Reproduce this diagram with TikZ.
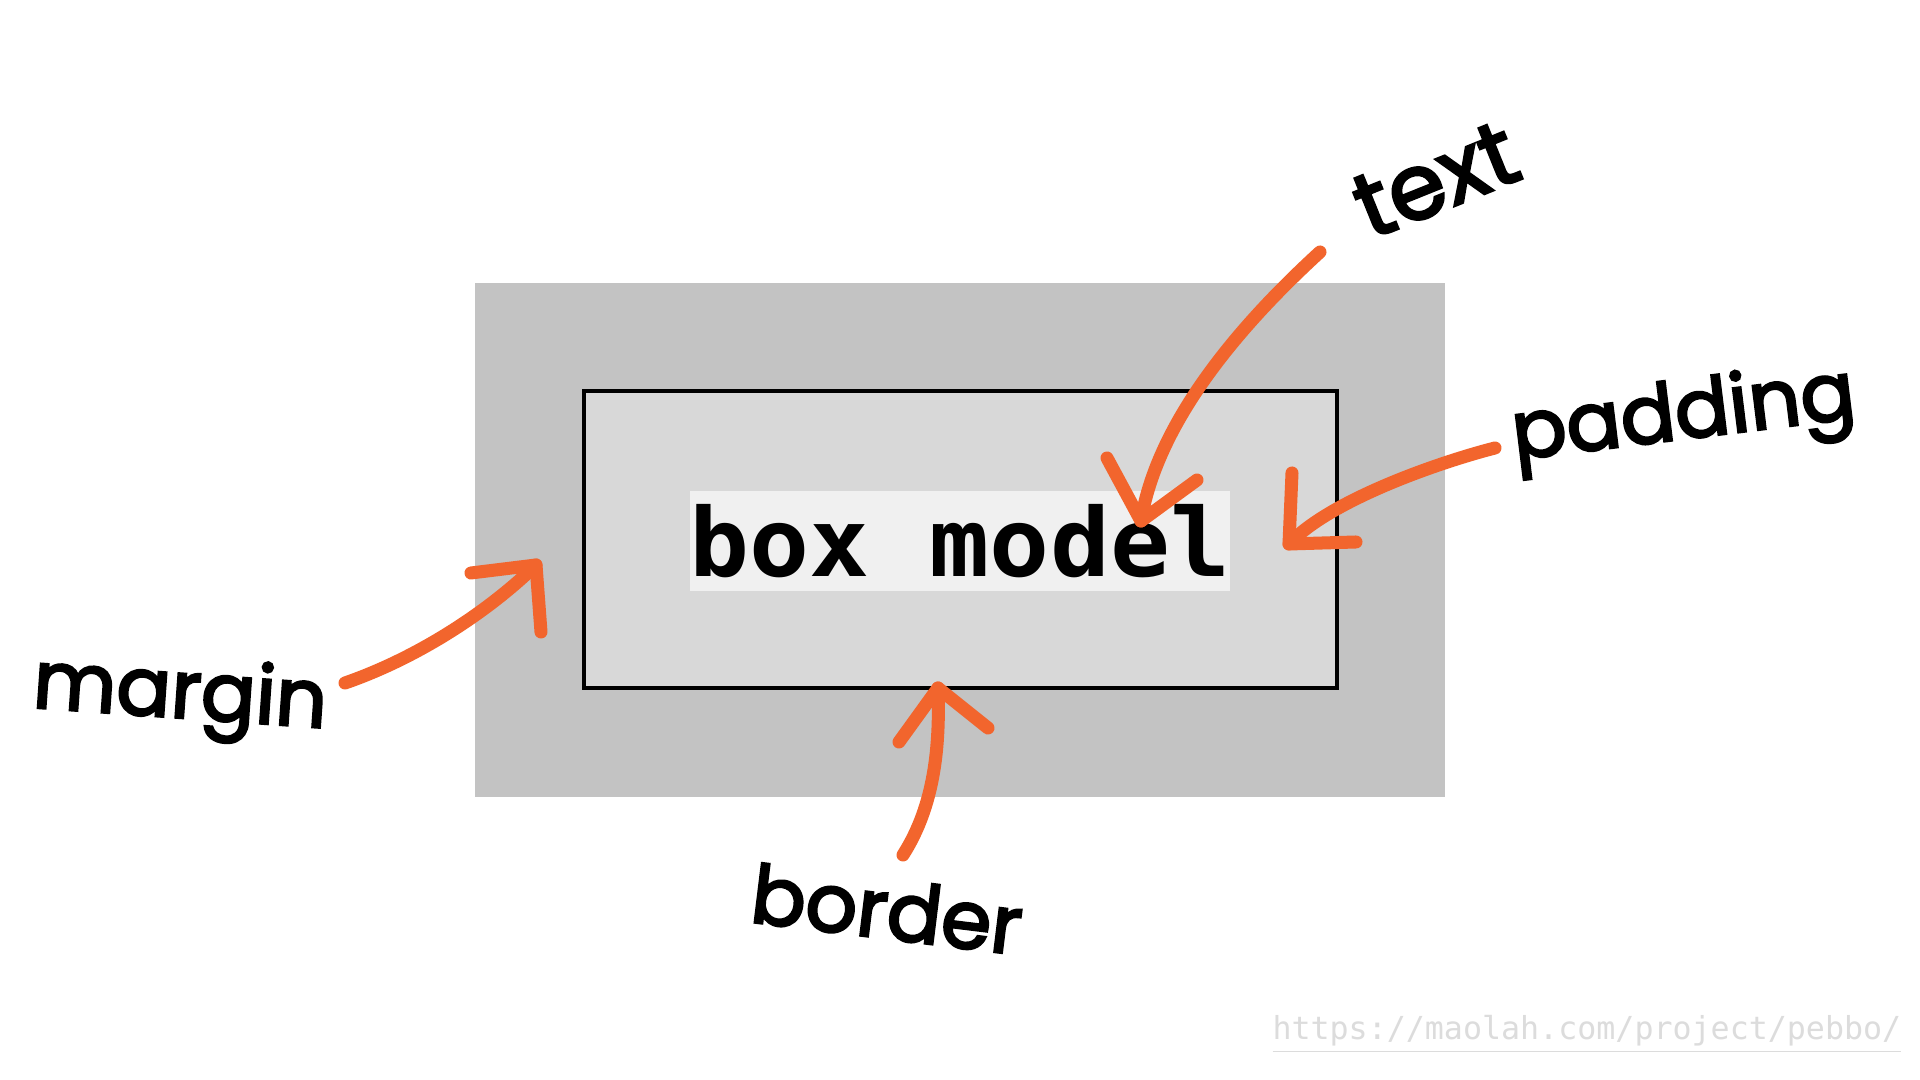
\documentclass[tikz,border=0pt]{standalone}
\usepackage{fontspec}
\usepackage{xcolor}
\usepackage{tikz}

\newfontfamily\handfont{Poppins}[FakeBold=3]
\newfontfamily\codefont{DejaVu Sans Mono}[FakeStretch=1.05]
\newfontfamily\urlfont{DejaVu Sans Mono}

\definecolor{penorange}{HTML}{F2652D}
\definecolor{margingray}{HTML}{C3C3C3}
\definecolor{paddinggray}{HTML}{D8D8D8}
\definecolor{textgray}{HTML}{F0F0F0}
\definecolor{urlgray}{HTML}{DCDCDC}

\begin{document}
\begin{tikzpicture}[x=0.01cm, y=-0.01cm,
  hand/.style={font=\handfont\fontsize{#1}{#1}\selectfont, inner sep=0pt},
  orangepen/.style={draw=penorange, line width=3.7pt, line cap=round, line join=round}]

% page, in pixels of the slide
\fill[white] (0,0) rectangle (1920,1080);
\useasboundingbox (0,0) rectangle (1920,1080);

% the boxes, outside in
\fill[margingray] (475,283) rectangle (1445,797);
\draw[fill=paddinggray, line width=1pt] (584,391) rectangle (1337,688);
\node[fill=textgray, minimum width=5.4cm, minimum height=1cm, inner sep=0pt,
  font=\codefont\bfseries\fontsize{27}{27}\selectfont] (content) at (960,541) {box model};

% hand written labels
\foreach \name/\x/\y/\r/\word/\s in {txt/1436/180/22/text/26, pad/1684/419/7/padding/23,
  mar/180/698/-4/margin/23, bor/887/909/-7/border/23}
  \node[hand=\s, rotate=\r] (\name) at (\x,\y) {\word};

% where the arrows start and end
\coordinate (txt-tail) at (1320,252);
\coordinate (txt-tip) at (1141,521);
\coordinate (pad-tail) at (1495,448);
\coordinate (pad-tip) at (1289,544);
\coordinate (mar-tail) at (345,683);
\coordinate (mar-tip) at (536,565);
\coordinate (bor-tail) at (903,855);
\coordinate (bor-tip) at (938,688);

% text
\draw[orangepen] (txt-tail) .. controls (1260,307) and (1159,410) .. (txt-tip);
\draw[orangepen] (1107,458) -- (txt-tip) -- (1197,480);

% padding
\draw[orangepen] (pad-tail) .. controls (1440,462) and (1330,500) .. (pad-tip);
\draw[orangepen] (1292,473) -- (pad-tip) -- (1356,542);

% margin
\draw[orangepen] (mar-tail) .. controls (420,657) and (490,610) .. (mar-tip);
\draw[orangepen] (471,573) -- (mar-tip) -- (541,632);

% border
\draw[orangepen] (bor-tail) .. controls (935,805) and (940,745) .. (bor-tip);
\draw[orangepen] (899,742) -- (bor-tip) -- (988,728);

% link in the corner
\node[anchor=base east, inner sep=0pt, text=urlgray, font=\urlfont\fontsize{9}{9}\selectfont]
  (url) at (1902,1040) {\underline{https://maolah.com/project/pebbo/}};

\end{tikzpicture}
\end{document}
